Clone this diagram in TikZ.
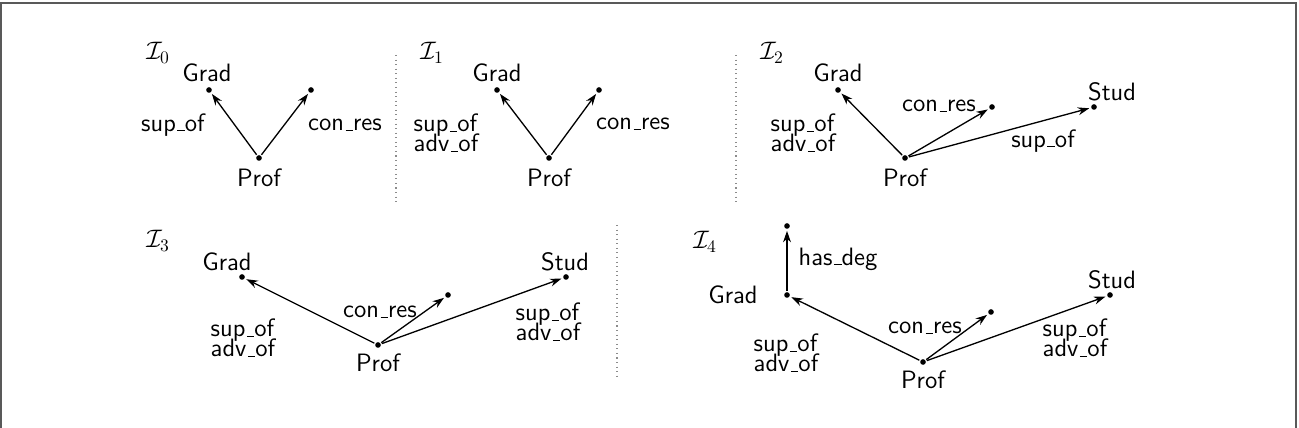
\documentclass[tikz,border=0pt]{standalone}
\usetikzlibrary{arrows.meta}
\newcommand\us{\kern.06em\vbox{\hrule width .3em height .6pt}}
\newcommand\tightlines{\lineskiplimit=-20pt\relax}
\begin{document}
\begin{tikzpicture}[x=0.02cm,y=-0.02cm,
  every node/.style={font=\sffamily\fontsize{14.3}{11.4}\selectfont\tightlines, inner sep=0pt},
  pt/.style={circle, fill=black, inner sep=0pt, minimum size=3.2pt},
  lbl/.style={align=left},
  edge/.style={-{Stealth[length=6.5pt,width=4.5pt]}, line width=0.75pt, shorten >=1pt, shorten <=0.5pt},
  divider/.style={dotted, line width=0.6pt, black!45},
  title/.style={font=\fontsize{14.3}{14}\selectfont}]
\useasboundingbox (0,0) rectangle (1299,428);
% frame
\draw[line width=1.2pt, black!65] (1,440) -- (1,3) -- (1296,3) -- (1296,440);
% dividers
\draw[divider] (396,55) -- (396,205);
\draw[divider] (736,55) -- (736,205);
\draw[divider] (617,225) -- (617,378);

% ---------- I0 ----------
\node[title] (t0) at (158,53) {$\mathcal{I}_0$};
\node[pt] (a0g) at (209,90) {};
\node[pt] (a0c) at (311,90) {};
\node[pt] (a0p) at (259,158) {};
\node (a0gt) at (207,73) {Grad};
\node (a0pt) at (259,178) {Prof};
\node (a0l1) at (173,125) {sup\us of};
\node (a0l2) at (345,125) {con\us res};
\draw[edge] (a0p) -- (a0g);
\draw[edge] (a0p) -- (a0c);

% ---------- I1 ----------
\node[title] (t1) at (432,53) {$\mathcal{I}_1$};
\node[pt] (a1g) at (497,90) {};
\node[pt] (a1c) at (599,90) {};
\node[pt] (a1p) at (549,158) {};
\node (a1gt) at (497,73) {Grad};
\node (a1pt) at (549,178) {Prof};
\node[lbl] (a1l1) at (446,133) {sup\us of\\adv\us of};
\node (a1l2) at (633,124) {con\us res};
\draw[edge] (a1p) -- (a1g);
\draw[edge] (a1p) -- (a1c);

% ---------- I2 ----------
\node[title] (t2) at (772,53) {$\mathcal{I}_2$};
\node[pt] (a2g) at (838,90) {};
\node[pt] (a2c) at (992,107) {};
\node[pt] (a2s) at (1094,107) {};
\node[pt] (a2p) at (905,158) {};
\node (a2gt) at (838,73) {Grad};
\node (a2st) at (1112,92) {Stud};
\node (a2pt) at (905,178) {Prof};
\node[lbl] (a2l1) at (803,133) {sup\us of\\adv\us of};
\node (a2l2) at (939,106) {con\us res};
\node (a2l3) at (1043,141) {sup\us of};
\draw[edge] (a2p) -- (a2g);
\draw[edge] (a2p) -- (a2c);
\draw[edge] (a2p) -- (a2s);

% ---------- I3 ----------
\node[title] (t3) at (158,241) {$\mathcal{I}_3$};
\node[pt] (a3g) at (242,277) {};
\node[pt] (a3c) at (448,295) {};
\node[pt] (a3s) at (566,277) {};
\node[pt] (a3p) at (378,345) {};
\node (a3gt) at (227,262) {Grad};
\node (a3st) at (565,262) {Stud};
\node (a3pt) at (378,363) {Prof};
\node[lbl] (a3l1) at (243,338) {sup\us of\\adv\us of};
\node (a3l2) at (380,312) {con\us res};
\node[lbl] (a3l3) at (548,322) {sup\us of\\adv\us of};
\draw[edge] (a3p) -- (a3g);
\draw[edge] (a3p) -- (a3c);
\draw[edge] (a3p) -- (a3s);

% ---------- I4 ----------
\node[title] (t4) at (705,242) {$\mathcal{I}_4$};
\node[pt] (a4h) at (787,226) {};
\node[pt] (a4g) at (787,295) {};
\node[pt] (a4c) at (991,312) {};
\node[pt] (a4s) at (1110,295) {};
\node[pt] (a4p) at (923,362) {};
\node (a4gt) at (733,295) {Grad};
\node (a4st) at (1112,280) {Stud};
\node (a4pt) at (923,380) {Prof};
\node (a4l0) at (838,259) {has\us deg};
\node[lbl] (a4l1) at (786,353) {sup\us of\\adv\us of};
\node (a4l2) at (925,328) {con\us res};
\node[lbl] (a4l3) at (1075,338) {sup\us of\\adv\us of};
\draw[edge] (a4g) -- (a4h);
\draw[edge] (a4p) -- (a4g);
\draw[edge] (a4p) -- (a4c);
\draw[edge] (a4p) -- (a4s);
\end{tikzpicture}
\end{document}
